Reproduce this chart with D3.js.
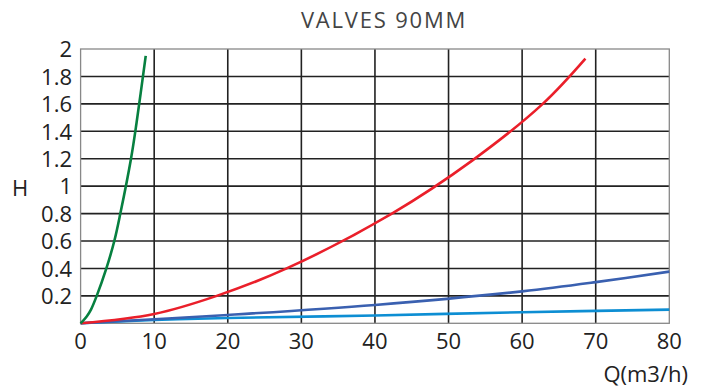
<!DOCTYPE html>
<html><head><meta charset="utf-8">
<script src="https://cdn.jsdelivr.net/npm/d3@7"></script>
<style>body{margin:0;background:#fff}svg{display:block}text{font-family:"Open Sans",sans-serif}</style>
</head><body><svg id="c" width="701" height="390"></svg>
<script>
const title = "VALVES 90MM";
const xTicks = [0,10,20,30,40,50,60,70,80];
const yTicks = [0.2,0.4,0.6,0.8,1,1.2,1.4,1.6,1.8,2];
const greenQ = [0,0.83,1.41,2.19,3.5,4.58,5.4,6.85,7.6,8.85];
const greenH = [0,0.05,0.1,0.2,0.4,0.6,0.8,1.2,1.46,1.95];
const redQ = [0,10,18.5,28,42.3,53.3,62.8,68.6];
const redH = [0,0.068,0.2,0.4,0.8,1.19,1.6,1.93];
const dblueQ = [0,20,40,60,70,80];
const dblueH = [0,0.061,0.134,0.233,0.30,0.377];
const lblueQ = [0,10,20,40,60,80];
const lblueH = [0,0.024,0.039,0.057,0.081,0.1];

const svg = d3.select("#c");
const x = d3.scaleLinear().domain([0,80]).range([80.6,669.3]);
const y = d3.scaleLinear().domain([0,2]).range([323.3,49]);

// grid
const g = svg.append("g");
g.selectAll("line.v").data(xTicks.filter(d=>d>0&&d<80)).join("line")
  .attr("x1",d=>x(d)).attr("x2",d=>x(d)).attr("y1",y(0)).attr("y2",y(2))
  .attr("stroke","#222").attr("stroke-width",1.6);
g.selectAll("line.h").data(yTicks.filter(d=>d<2)).join("line")
  .attr("y1",d=>y(d)).attr("y2",d=>y(d)).attr("x1",x(0)).attr("x2",x(80))
  .attr("stroke","#222").attr("stroke-width",1.6);
svg.append("rect").attr("x",x(0)).attr("y",y(2)).attr("width",x(80)-x(0)).attr("height",y(0)-y(2))
  .attr("fill","none").attr("stroke","#888").attr("stroke-width",1.3);

// axes labels
svg.append("g").selectAll("text").data(yTicks).join("text")
  .attr("x",72).attr("y",d=>y(d)+8.3).attr("text-anchor","end")
  .attr("font-size",22).attr("fill","#222").text(d=>d);
svg.append("g").selectAll("text").data(xTicks).join("text")
  .attr("x",d=>x(d)).attr("y",348.5).attr("text-anchor","middle")
  .attr("font-size",22).attr("fill","#222").text(d=>d);
svg.append("text").attr("x",688).attr("y",382).attr("text-anchor","end")
  .attr("font-size",22).attr("fill","#222").text("Q(m3/h)");
svg.append("text").attr("x",20).attr("y",196).attr("text-anchor","middle")
  .attr("font-size",22).attr("fill","#222").text("H");
svg.append("text").attr("x",384).attr("y",28.3).attr("text-anchor","middle")
  .attr("font-size",22).attr("fill","#444").attr("letter-spacing",1.8).text(title);

const line = d3.line().x(d=>x(d[0])).y(d=>y(d[1])).curve(d3.curveCatmullRom.alpha(0.5));
const series = [
  [lblueQ,lblueH,"#0d8ed3"],
  [dblueQ,dblueH,"#3a60b0"],
  [redQ,redH,"#ea1f2a"],
  [greenQ,greenH,"#078040"]
];
series.forEach(([q,h,c])=>{
  svg.append("path").datum(q.map((v,i)=>[v,h[i]])).attr("d",line)
    .attr("fill","none").attr("stroke",c).attr("stroke-width",2.6);
});
</script></body></html>
